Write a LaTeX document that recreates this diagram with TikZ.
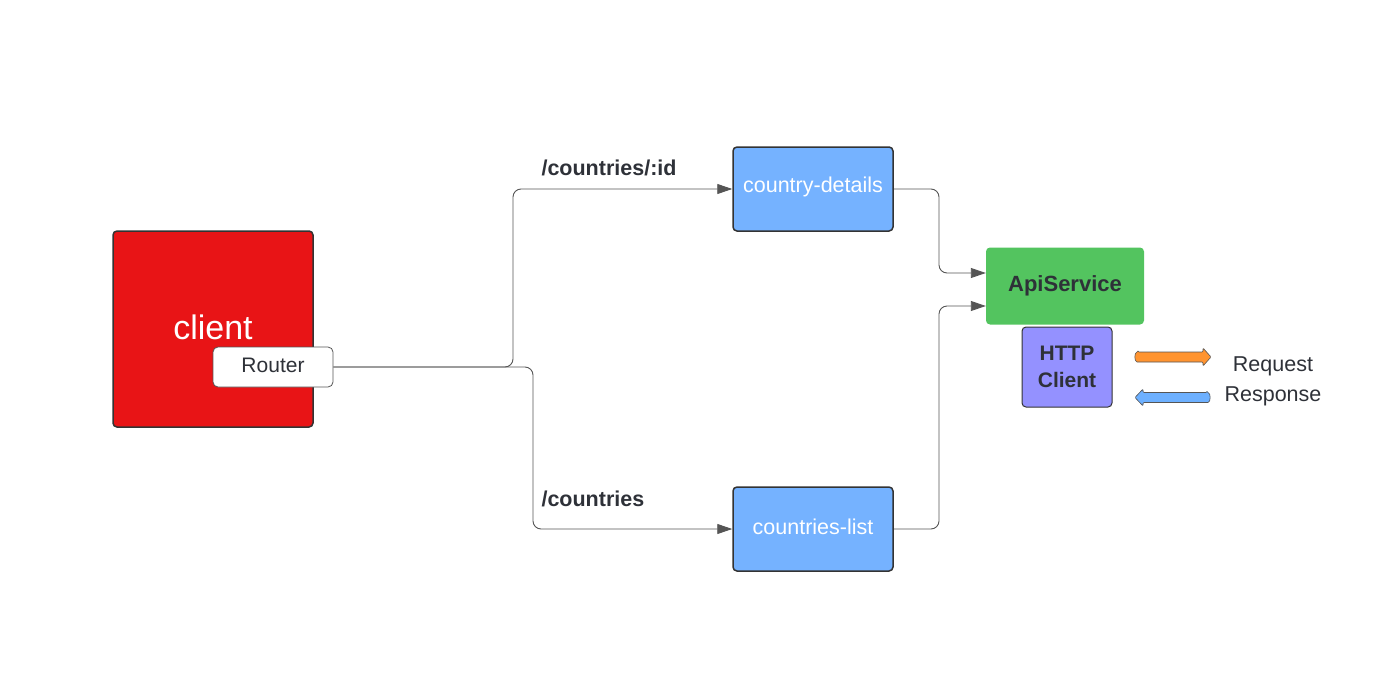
\documentclass[tikz,border=0pt]{standalone}
\usepackage{fontspec}
\setmainfont{Liberation Sans}
\usetikzlibrary{arrows.meta,positioning}

\definecolor{clientred}{HTML}{E81416}
\definecolor{pageblue}{HTML}{75B2FF}
\definecolor{apigreen}{HTML}{53C45F}
\definecolor{httppurple}{HTML}{9491FF}
\definecolor{reqorange}{HTML}{FF9430}
\definecolor{resblue}{HTML}{6DB0FF}
\definecolor{darkline}{HTML}{333333}
\definecolor{wireline}{HTML}{555555}
\definecolor{darktext}{HTML}{2E3138}

\begin{document}
\begin{tikzpicture}[x=1pt, y=-1pt, >={Triangle[length=15pt,width=10pt]},
    box/.style={draw=darkline, line width=1.5pt, rounded corners=4pt},
    page/.style={box, fill=pageblue, minimum width=160pt, minimum height=84pt},
    page text/.style={text=white, font=\fontsize{21.5}{25}\selectfont},
    wire/.style={->, draw=wireline, line width=0.9pt, rounded corners=8pt},
    path label/.style={anchor=west, text=darktext, font=\fontsize{21.5}{25}\selectfont\bfseries},
    legend text/.style={text=darktext, font=\fontsize{21.5}{25}\selectfont},
    fat arrow/.style={draw=wireline, line width=0.6pt, rounded corners=1pt}]
    \useasboundingbox (0,0) rectangle (1393,680);

    % client with its router
    \node[box, fill=clientred, minimum width=200pt, minimum height=196pt] (client) at (213,329) {};
    \node[text=white, font=\fontsize{34}{40}\selectfont] (clienttext) at (213,327) {client};
    \node[draw=wireline, line width=0.8pt, fill=white, rounded corners=5pt, minimum width=120pt,
        minimum height=40pt] (router) at (273,367) {};
    \node[text=darktext, font=\fontsize{21}{25}\selectfont] (routertext) at (273,365) {Router};

    % pages
    \node[page] (details) at (813,189) {};
    \node[page] (list)    at (813,529) {};
    \node[page text] (detailstext) at (813,187) {country-details};
    \node[page text] (listtext)    at (813,527) {countries-list};

    % service
    \node[fill=apigreen, rounded corners=4pt, minimum width=158pt, minimum height=77pt,
        text=darktext, font=\fontsize{22}{26}\selectfont\bfseries] (api) at (1065,286) {ApiService};
    \node[box, line width=1pt, fill=httppurple, minimum width=90pt, minimum height=80pt,
        align=center, text=darktext, font=\fontsize{21}{27}\selectfont\bfseries] (http) at (1067,367) {HTTP\\Client};

    % routes
    \draw[wire] (router.east) -- (513,367) |- (details.west);
    \draw[wire] (router.east) -- (533,367) |- (list.west);
    \node[path label] (idlabel)   at (538,168) {/countries/:id};
    \node[path label] (listlabel) at (538,499) {/countries};

    % calls to the service
    \draw[wire] (details.east) -- (939,189) |- ([yshift=13pt]api.west);
    \draw[wire] (list.east) -- (939,529) |- ([yshift=-20pt]api.west);

    % legend
    \draw[fat arrow, fill=reqorange] (1138,352) -- (1203,352) -- (1203,348) -- (1211,357)
        -- (1203,366) -- (1203,362) -- (1138,362) to[out=180, in=180] cycle;
    \draw[fat arrow, fill=resblue] (1207,392.5) -- (1143,392.5) -- (1143,389) -- (1135,397.5)
        -- (1143,406) -- (1143,402.5) -- (1207,402.5) to[out=0, in=0] cycle;
    \node[legend text] (req) at (1273,366) {Request};
    \node[legend text] (res) at (1273,396) {Response};
\end{tikzpicture}
\end{document}
